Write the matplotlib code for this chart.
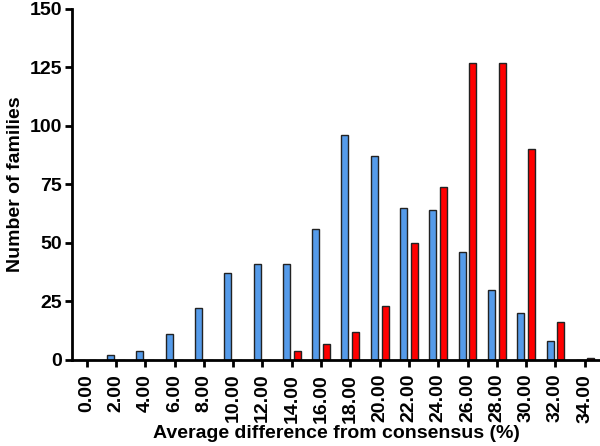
import numpy as np
import matplotlib
matplotlib.use('Agg')
import matplotlib.pyplot as plt

plt.rcParams['font.family'] = ['Liberation Sans', 'DejaVu Sans']
plt.rcParams['font.weight'] = 'bold'

# bin centres (%) and counts
bins = [0, 2, 4, 6, 8, 10, 12, 14, 16, 18, 20, 22, 24, 26, 28, 30, 32, 34]
blue_counts = [0, 2, 4, 11, 22, 37, 41, 41, 56, 96, 87, 65, 64, 46, 30, 20, 8, 0]
red_counts = [0, 0, 0, 0, 0, 0, 0, 4, 7, 12, 23, 50, 74, 127, 127, 90, 16, 1]
tick_labels = ['%.2f' % b for b in bins]

fig = plt.figure(figsize=(6, 4.46), dpi=100)
ax = fig.add_axes([0.12, 0.193, 0.88, 0.787])

x = np.array(bins, dtype=float)
w = 0.48
off = 0.37
ax.bar(x - off, blue_counts, width=w, color='#559BEA', edgecolor='#222222', linewidth=1.0)
ax.bar(x + off, red_counts, width=w, color='#FF0000', edgecolor='#222222', linewidth=1.0)

ax.set_xlim(-1.0, 35.04)
ax.set_ylim(0, 150)
ax.set_yticks([0, 25, 50, 75, 100, 125, 150])
ax.set_xticks(bins)
ax.set_xticklabels(tick_labels, rotation=90)

for s in ['top', 'right']:
    ax.spines[s].set_visible(False)
for s in ['left', 'bottom']:
    ax.spines[s].set_linewidth(2)
ax.tick_params(axis='y', width=2, length=5, labelsize=14, direction='out', pad=2)
ax.tick_params(axis='x', width=2, length=5, labelsize=14, direction='out', pad=5)

ax.set_xlabel('Average difference from consensus (%)', fontsize=14, fontweight='bold', labelpad=2)
ax.set_ylabel('Number of families', fontsize=14, fontweight='bold', labelpad=4)

fig.savefig('out.png', dpi=100)
